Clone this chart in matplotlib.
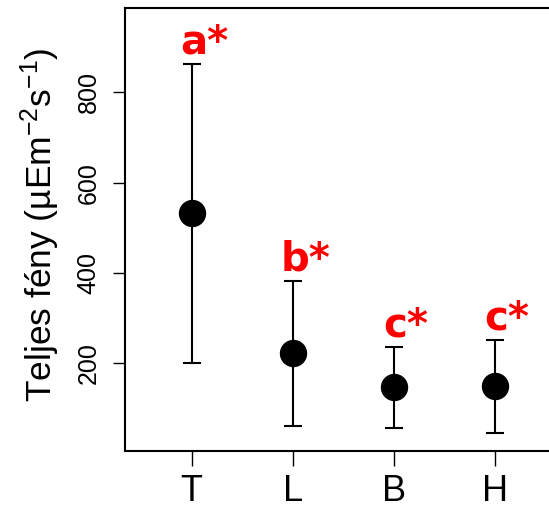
import numpy as np
import matplotlib.pyplot as plt

plt.rcParams['mathtext.fontset'] = 'custom'
plt.rcParams['mathtext.rm'] = 'Liberation Sans'
plt.rcParams['mathtext.it'] = 'Liberation Sans:italic'

groups = ["T", "L", "B", "H"]
means = [532, 222, 146, 148]
lower = [199, 60, 57, 46]
upper = [863, 381, 235, 252]
letters = ["a*", "b*", "c*", "c*"]
yticks = [200, 400, 600, 800]

x = np.arange(1, len(groups) + 1)
means = np.array(means)
err = [means - np.array(lower), np.array(upper) - means]

fig = plt.figure(figsize=(5.49, 5.11), dpi=100)
W, H = 549, 511
left, right, top, bottom = 125, 561.3, 8, 451
ax = fig.add_axes([left / W, 1 - bottom / H, (right - left) / W, (bottom - top) / H])

ax.errorbar(x, means, yerr=err, fmt='o', color='black', ecolor='black',
            markersize=18.7, elinewidth=1.5, capsize=6.8, capthick=1.5)

for xi, yi, lab in zip(x, upper, letters):
    ax.annotate(lab, (xi, yi), xytext=(9, 7.5), textcoords='offset points',
                ha='center', va='baseline', color='#ff0000',
                fontsize=29, fontweight='bold', family='DejaVu Sans')

ax.set_xlim(0.34, 4.66)
ax.set_ylim(5, 987)
ax.set_xticks(x)
ax.set_xticklabels(groups, family='Liberation Sans', fontsize=26)
ax.set_yticks(yticks)
ax.set_yticklabels([str(v) for v in yticks], family='Liberation Sans',
                   fontsize=18, rotation=90, va='center')
ax.tick_params(axis='y', length=8.6, width=1.0, pad=9)
ax.tick_params(axis='x', length=10.8, width=1.0, pad=6)
for s in ax.spines.values():
    s.set_linewidth(1.5)

ax.set_ylabel('Teljes fény (µEm$^{-2}$s$^{-1}$)', family='Liberation Sans',
              fontsize=25.5, va='center')
ax.yaxis.set_label_coords(-0.195, 0.51)

fig.savefig('out.png', dpi=100)
